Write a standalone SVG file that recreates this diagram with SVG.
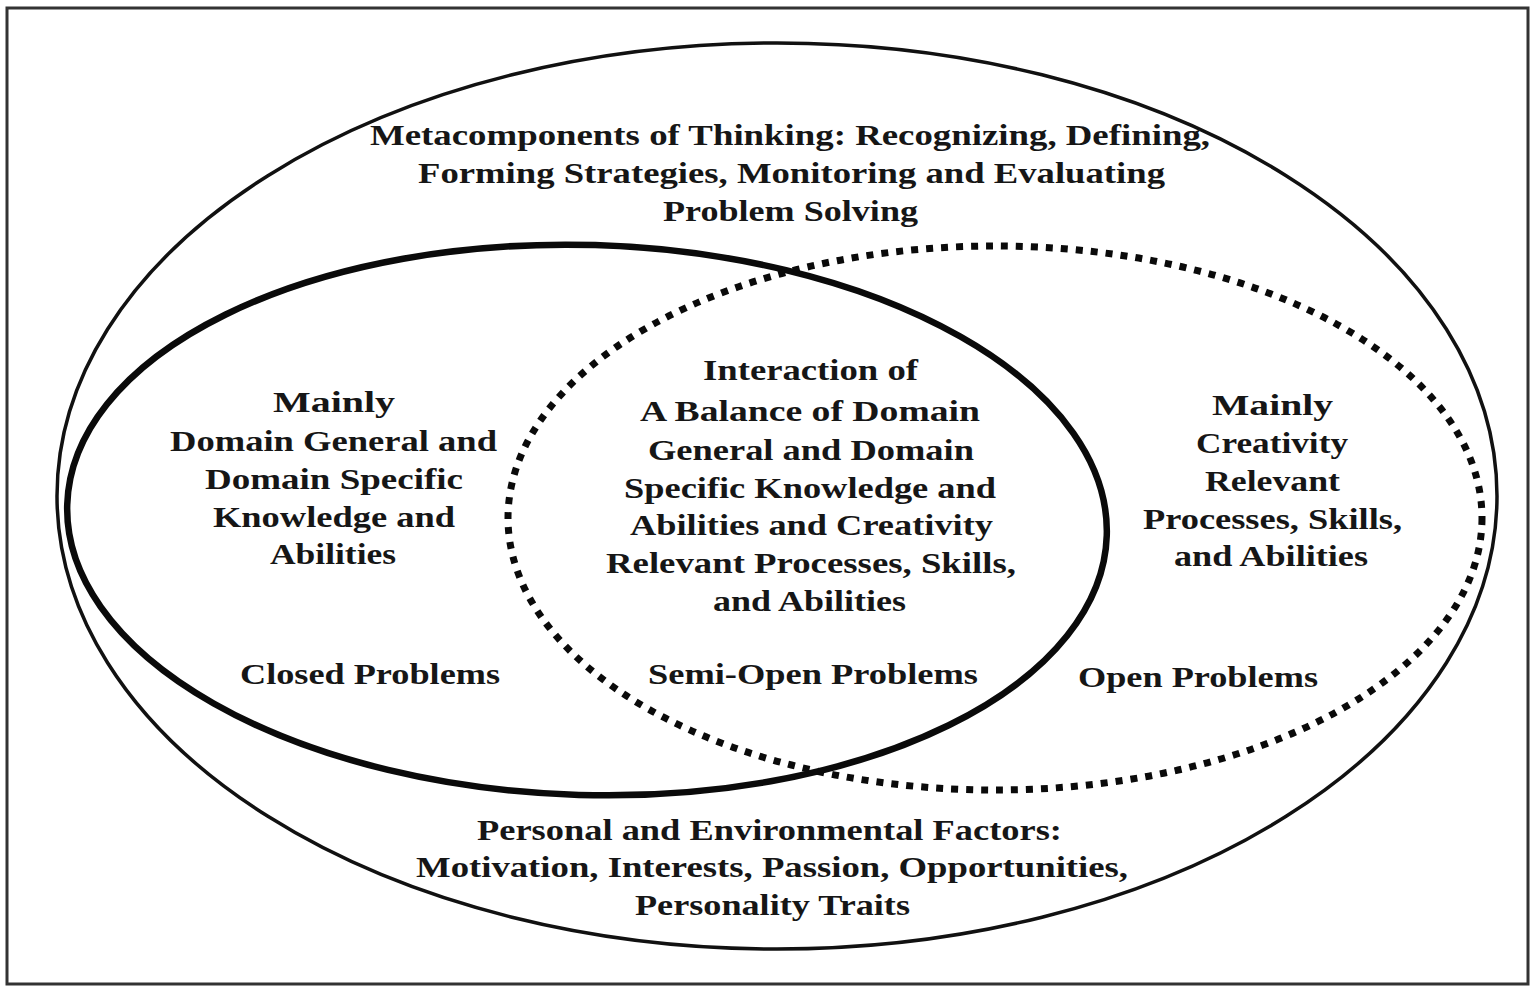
<svg xmlns="http://www.w3.org/2000/svg" width="1536" height="987" viewBox="0 0 1536 987">
<style>
.t{font-family:"Liberation Serif","Times New Roman",serif;font-weight:bold;font-size:30px;fill:#161616;text-anchor:start}
</style>
<rect x="0" y="0" width="1536" height="987" fill="#fff"/>
<rect x="7" y="8" width="1521" height="976" fill="none" stroke="#333" stroke-width="3"/>
<g id="outer">
<ellipse cx="777" cy="496" rx="720" ry="453" fill="none" stroke="#111" stroke-width="3.5"/>
<text class="t" x="370" y="145" textLength="840" lengthAdjust="spacingAndGlyphs">Metacomponents of Thinking: Recognizing, Defining,</text>
<text class="t" x="418" y="183" textLength="747" lengthAdjust="spacingAndGlyphs">Forming Strategies, Monitoring and Evaluating</text>
<text class="t" x="663" y="221" textLength="255" lengthAdjust="spacingAndGlyphs">Problem Solving</text>
<text class="t" x="477" y="840" textLength="585" lengthAdjust="spacingAndGlyphs">Personal and Environmental Factors:</text>
<text class="t" x="416" y="877" textLength="712" lengthAdjust="spacingAndGlyphs">Motivation, Interests, Passion, Opportunities,</text>
<text class="t" x="635" y="915" textLength="275" lengthAdjust="spacingAndGlyphs">Personality Traits</text>
</g>
<g id="domain">
<ellipse cx="587" cy="520" rx="520" ry="275" transform="rotate(1.7 587 520)" fill="none" stroke="#0a0a0a" stroke-width="6.5"/>
<text class="t" x="273" y="412" textLength="122" lengthAdjust="spacingAndGlyphs">Mainly</text>
<text class="t" x="170" y="451" textLength="327" lengthAdjust="spacingAndGlyphs">Domain General and</text>
<text class="t" x="205" y="489" textLength="258" lengthAdjust="spacingAndGlyphs">Domain Specific</text>
<text class="t" x="213" y="527" textLength="242" lengthAdjust="spacingAndGlyphs">Knowledge and</text>
<text class="t" x="270" y="564" textLength="126" lengthAdjust="spacingAndGlyphs">Abilities</text>
<text class="t" x="240" y="684" textLength="260" lengthAdjust="spacingAndGlyphs">Closed Problems</text>
</g>
<g id="creativity">
<ellipse cx="995" cy="518" rx="487" ry="272" fill="none" stroke="#0a0a0a" stroke-width="7" stroke-dasharray="7 8"/>
<text class="t" x="1212" y="415" textLength="121" lengthAdjust="spacingAndGlyphs">Mainly</text>
<text class="t" x="1196" y="453" textLength="152" lengthAdjust="spacingAndGlyphs">Creativity</text>
<text class="t" x="1205" y="491" textLength="135" lengthAdjust="spacingAndGlyphs">Relevant</text>
<text class="t" x="1143" y="529" textLength="259" lengthAdjust="spacingAndGlyphs">Processes, Skills,</text>
<text class="t" x="1174" y="566" textLength="194" lengthAdjust="spacingAndGlyphs">and Abilities</text>
<text class="t" x="1078" y="687" textLength="240" lengthAdjust="spacingAndGlyphs">Open Problems</text>
</g>
<g id="interaction">
<text class="t" x="703" y="380" textLength="215" lengthAdjust="spacingAndGlyphs">Interaction of</text>
<text class="t" x="640" y="421" textLength="340" lengthAdjust="spacingAndGlyphs">A Balance of Domain</text>
<text class="t" x="648" y="460" textLength="326" lengthAdjust="spacingAndGlyphs">General and Domain</text>
<text class="t" x="624" y="498" textLength="372" lengthAdjust="spacingAndGlyphs">Specific Knowledge and</text>
<text class="t" x="630" y="535" textLength="363" lengthAdjust="spacingAndGlyphs">Abilities and Creativity</text>
<text class="t" x="606" y="573" textLength="410" lengthAdjust="spacingAndGlyphs">Relevant Processes, Skills,</text>
<text class="t" x="713" y="611" textLength="193" lengthAdjust="spacingAndGlyphs">and Abilities</text>
<text class="t" x="648" y="684" textLength="330" lengthAdjust="spacingAndGlyphs">Semi-Open Problems</text>
</g>
<g id="connectors"></g>
</svg>
